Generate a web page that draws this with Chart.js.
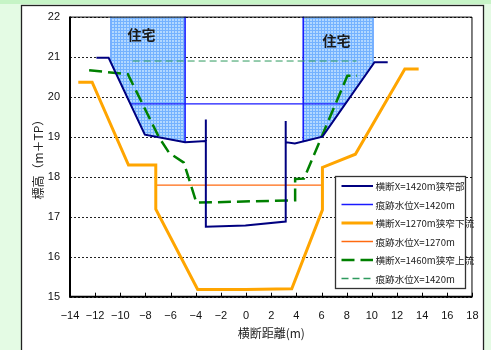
<!DOCTYPE html>
<html>
<head>
<meta charset="utf-8">
<script src="https://cdn.jsdelivr.net/npm/chart.js@4/dist/chart.umd.min.js"></script>
<style>
  html, body { margin: 0; padding: 0; background: #e4fbe4; }
  canvas { display: block; }
</style>
</head>
<body>
<canvas id="chart" width="491" height="350"></canvas>
<script>
// Cross sections: [distance across channel (m), elevation (m+TP)]
const section1420 = [[-11.9, 20.97], [-10.93, 20.97], [-8.05, 19.05], [-4.85, 18.86], [-3.2, 18.89],
  [-3.2, 19.43], [-3.2, 16.75], [-0.05, 16.78], [3.15, 16.88], [3.15, 19.39], [3.15, 18.86],
  [3.88, 18.83], [6.07, 19.0], [10.21, 20.86], [11.26, 20.86]];
const flood1420 = [[-9.2, 19.82], [7.9, 19.82]];
const section1270 = [[-13.34, 20.36], [-12.24, 20.36], [-9.35, 18.29], [-7.18, 18.29], [-7.18, 17.19],
  [-3.85, 15.18], [-0.05, 15.18], [3.63, 15.2], [6.07, 17.17], [6.07, 18.23], [8.69, 18.56],
  [12.62, 20.69], [13.72, 20.69]];
const flood1270 = [[-7.18, 17.79], [6.07, 17.79]];
const section1460 = [[-12.48, 20.66], [-9.4, 20.56], [-6.92, 18.98], [-6.13, 18.6], [-4.95, 18.35],
  [-3.95, 17.35], [3.9, 17.41], [3.9, 17.94], [4.6, 17.95], [8.05, 20.52], [8.82, 20.52]];
const flood1460 = [[-9.02, 20.89], [8.77, 20.89]];

// Houses along both banks
const houseLeft = [[-10.77, 22], [-10.77, 20.86], [-8.05, 19.05], [-4.85, 18.86], [-4.85, 22]];
const houseRight = [[4.55, 22], [4.55, 18.87], [6.07, 19.0], [10.13, 20.82], [10.13, 22]];
const houseLeftWall = [[-4.85, 22], [-4.85, 18.86]];
const houseRightWall = [[4.55, 22], [4.55, 18.87]];
const houseNames = ['住宅', '住宅'];
const houseNameAt = [[-8.31, 21.54], [7.19, 21.40]];

const seriesNames = ['横断X=1420m狭窄部', '痕跡水位X=1420m', '横断X=1270m狭窄下流',
  '痕跡水位X=1270m', '横断X=1460m狭窄上流', '痕跡水位X=1420m'];

const xTicks = { min: -14, max: 18, step: 2 };
const yTicks = { min: 15, max: 22, step: 1 };

const pts = arr => arr.map(([x, y]) => ({ x, y }));

// grid-hatched fill for the houses
function hatch() {
  const c = document.createElement('canvas');
  c.width = 3; c.height = 3;
  const g = c.getContext('2d');
  g.fillStyle = '#b2d8ff';
  g.fillRect(0, 0, 3, 3);
  g.fillStyle = '#74b2ff';
  g.fillRect(0, 0, 3, 1);
  g.fillRect(0, 0, 1, 3);
  return g.createPattern(c, 'repeat');
}

const lineBase = { pointRadius: 0, tension: 0, fill: false, borderJoinStyle: 'miter' };

const datasets = [
  { ...lineBase, label: seriesNames[0], data: pts(section1420), borderColor: '#000080', borderWidth: 2, inLegend: true },
  { ...lineBase, label: seriesNames[1], data: pts(flood1420), borderColor: '#1a1aff', borderWidth: 1.3, inLegend: true },
  { ...lineBase, label: seriesNames[2], data: pts(section1270), borderColor: '#ffa500', borderWidth: 3, inLegend: true },
  { ...lineBase, label: seriesNames[3], data: pts(flood1270), borderColor: '#ff6a10', borderWidth: 1.2, inLegend: true },
  { ...lineBase, label: seriesNames[4], data: pts(section1460), borderColor: '#008000', borderWidth: 2.5, borderDash: [13, 6], inLegend: true },
  { ...lineBase, label: seriesNames[5], data: pts(flood1460), borderColor: '#2e9a5e', borderWidth: 1, borderDash: [7, 4], inLegend: true },
  { ...lineBase, label: 'wallL', data: pts(houseLeftWall), borderColor: '#1a1aff', borderWidth: 1.5 },
  { ...lineBase, label: 'wallR', data: pts(houseRightWall), borderColor: '#1a1aff', borderWidth: 1.5 },
  { ...lineBase, label: 'houseL', data: pts(houseLeft), borderColor: '#79afff', borderWidth: 1, fill: 'shape', backgroundColor: hatch() },
  { ...lineBase, label: 'houseR', data: pts(houseRight), borderColor: '#79afff', borderWidth: 1, fill: 'shape', backgroundColor: hatch() }
];

const FONT_CJK = '"Noto Sans CJK JP", "Noto Sans", sans-serif';
const FONT_NUM = '"Liberation Sans", Arial, sans-serif';

// page panel behind the chart
const panel = {
  id: 'panel',
  beforeDraw(chart) {
    const ctx = chart.ctx;
    ctx.save();
    ctx.fillStyle = '#e4fbe4';
    ctx.fillRect(0, 0, chart.width, chart.height);
    ctx.fillStyle = '#c6f4c6';
    ctx.fillRect(0, 0, chart.width, 4);
    ctx.fillStyle = '#ffffff';
    ctx.fillRect(21.5, 5.5, 462, 350);
    ctx.strokeStyle = '#222';
    ctx.lineWidth = 1.3;
    ctx.strokeRect(21.5, 5.5, 462, 350);
    ctx.restore();
  },
  // dotted horizontal grid at each elevation tick
  beforeDatasetsDraw(chart) {
    const ctx = chart.ctx;
    const a = chart.chartArea;
    const ys = chart.scales.y;
    ctx.save();
    ctx.strokeStyle = '#222';
    ctx.lineWidth = 1;
    ctx.setLineDash([2, 2]);
    ctx.beginPath();
    ys.ticks.forEach(t => {
      const py = Math.round(ys.getPixelForValue(t.value)) + 0.5;
      ctx.moveTo(a.left, py);
      ctx.lineTo(a.right, py);
    });
    ctx.stroke();
    ctx.restore();
  }
};

// plot frame, inward ticks, house captions and legend
const overlay = {
  id: 'overlay',
  afterDatasetsDraw(chart) {
    const ctx = chart.ctx;
    const a = chart.chartArea;
    const xs = chart.scales.x, ys = chart.scales.y;
    ctx.save();
    // captions
    ctx.font = 'bold 14px ' + FONT_CJK;
    ctx.fillStyle = '#1a1a1a';
    ctx.textAlign = 'center';
    ctx.textBaseline = 'middle';
    houseNames.forEach((t, i) => {
      ctx.fillText(t, xs.getPixelForValue(houseNameAt[i][0]), ys.getPixelForValue(houseNameAt[i][1]));
    });
    // frame
    ctx.strokeStyle = '#000';
    ctx.lineWidth = 1;
    ctx.beginPath();
    ctx.moveTo(a.left, a.top + 0.5);
    ctx.lineTo(a.right - 0.5, a.top + 0.5);
    ctx.lineTo(a.right - 0.5, a.bottom);
    ctx.stroke();
    ctx.lineWidth = 2;
    ctx.beginPath();
    ctx.moveTo(a.left, a.top);
    ctx.lineTo(a.left, a.bottom);
    ctx.lineTo(a.right, a.bottom);
    ctx.stroke();
    // inward ticks on the x axis
    ctx.lineWidth = 1;
    ctx.beginPath();
    xs.ticks.forEach(t => {
      const px = Math.round(xs.getPixelForValue(t.value)) + 0.5;
      ctx.moveTo(px, a.bottom);
      ctx.lineTo(px, a.bottom - 4);
    });
    ctx.stroke();
    // legend
    const L = 335.5, T = 176.5, W = 130, H = 112;
    ctx.fillStyle = '#fff';
    ctx.fillRect(L, T, W, H);
    ctx.strokeStyle = '#333';
    ctx.lineWidth = 1.3;
    ctx.strokeRect(L, T, W, H);
    ctx.font = '9.6px ' + FONT_CJK;
    ctx.textAlign = 'left';
    ctx.textBaseline = 'middle';
    chart.data.datasets.filter(d => d.inLegend).forEach((d, i) => {
      const y = 186 + i * 18.5;
      ctx.strokeStyle = d.borderColor;
      ctx.lineWidth = Math.max(d.borderWidth, 1.5);
      ctx.setLineDash(d.borderDash || []);
      ctx.beginPath();
      ctx.moveTo(341.5, y);
      ctx.lineTo(373, y);
      ctx.stroke();
      ctx.setLineDash([]);
      ctx.fillStyle = '#222';
      ctx.fillText(d.label, 375.5, y + 0.5);
    });
    ctx.restore();
  }
};

new Chart(document.getElementById('chart'), {
  type: 'line',
  data: { datasets },
  options: {
    responsive: false,
    animation: false,
    events: [],
    layout: { padding: { left: 0, top: 14.7, right: 14.3, bottom: 0 } },
    plugins: { legend: { display: false }, tooltip: { enabled: false } },
    scales: {
      x: {
        type: 'linear',
        min: xTicks.min, max: xTicks.max,
        afterFit(s) { s.height = 53.3; },
        grid: { display: false, drawTicks: false },
        border: { display: false },
        ticks: {
          stepSize: xTicks.step, padding: 12.4, color: '#111',
          font: { family: FONT_NUM, size: 11 },
          callback: v => (v < 0 ? '\u2212' + Math.abs(v) : String(v))
        },
        title: {
          display: true, text: '横断距離(m)', color: '#222',
          font: { family: FONT_CJK, size: 12 },
          padding: { top: 0, bottom: 9.8 }
        }
      },
      y: {
        type: 'linear',
        min: yTicks.min, max: yTicks.max,
        afterFit(s) { s.width = 70; },
        grid: { display: false, drawTicks: false },
        border: { display: false },
        ticks: {
          stepSize: yTicks.step, padding: 10, color: '#111',
          font: { family: FONT_NUM, size: 11 }
        },
        title: {
          display: true, text: '標高（m＋TP）', color: '#222',
          font: { family: FONT_CJK, size: 12 },
          padding: { top: 31, bottom: 0 }
        }
      }
    }
  },
  plugins: [panel, overlay]
});
</script>
</body>
</html>
